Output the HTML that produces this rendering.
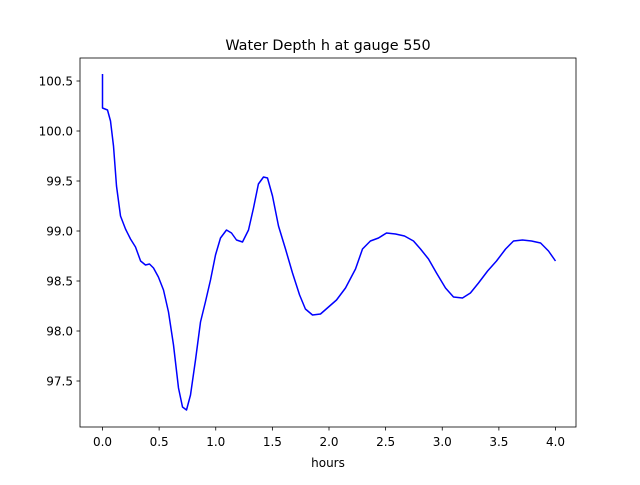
<!DOCTYPE html>
<html><head><meta charset="utf-8"><style>
body{margin:0;background:#fff;}
svg{font-family:"DejaVu Sans","Liberation Sans",sans-serif;}
</style></head><body>
<svg id="chart" width="640" height="480" viewBox="0 0 640 480">
<rect x="0" y="0" width="640" height="480" fill="#fff"/>
<text x="328" y="50" text-anchor="middle" font-size="14.4">Water Depth h at gauge 550</text>
<g id="xticks"></g>
<g id="yticks"></g>
<path id="line" fill="none" stroke="#0000ff" stroke-width="1.5" stroke-linejoin="round"/>
<rect x="80" y="58" width="496" height="369" fill="none" stroke="#000" stroke-width="0.8"/>
<text x="328" y="467" text-anchor="middle" font-size="12">hours</text>
</svg>
<script>
const times=[0,0,0.044,0.071,0.097,0.124,0.159,0.203,0.247,0.291,0.336,0.38,0.415,0.45,0.494,0.539,0.583,0.627,0.671,0.706,0.742,0.777,0.821,0.865,0.909,0.954,0.998,1.042,1.095,1.139,1.183,1.236,1.289,1.333,1.377,1.422,1.457,1.501,1.554,1.616,1.678,1.74,1.792,1.854,1.925,1.996,2.066,2.146,2.234,2.296,2.366,2.437,2.508,2.587,2.667,2.746,2.808,2.879,2.949,3.029,3.099,3.179,3.249,3.32,3.4,3.479,3.559,3.629,3.709,3.788,3.868,3.938,4.0];
const depths=[100.57,100.23,100.21,100.10,99.85,99.45,99.15,99.02,98.92,98.84,98.70,98.66,98.67,98.63,98.54,98.41,98.19,97.86,97.43,97.24,97.21,97.36,97.71,98.09,98.29,98.51,98.76,98.93,99.01,98.98,98.91,98.89,99.01,99.23,99.47,99.54,99.53,99.35,99.05,98.82,98.58,98.36,98.22,98.16,98.17,98.24,98.31,98.43,98.62,98.82,98.90,98.93,98.98,98.97,98.95,98.90,98.82,98.72,98.58,98.43,98.34,98.33,98.38,98.48,98.60,98.70,98.82,98.90,98.91,98.90,98.88,98.80,98.70];
const xTickVals=[0,0.5,1,1.5,2,2.5,3,3.5,4];
const xTickLabels=["0.0","0.5","1.0","1.5","2.0","2.5","3.0","3.5","4.0"];
const yTickVals=[97.5,98,98.5,99,99.5,100,100.5];
const yTickLabels=["97.5","98.0","98.5","99.0","99.5","100.0","100.5"];
const xs=t=>102.5+t*113.25;
const ys=v=>381-(v-97.5)*100;
const NS="http://www.w3.org/2000/svg";
const xg=document.getElementById('xticks'),yg=document.getElementById('yticks');
xTickVals.forEach((v,i)=>{
  const l=document.createElementNS(NS,'line');
  l.setAttribute('x1',xs(v));l.setAttribute('x2',xs(v));l.setAttribute('y1',427);l.setAttribute('y2',430.5);
  l.setAttribute('stroke','#000');l.setAttribute('stroke-width','0.8');
  
  
  xg.appendChild(l);
  const t=document.createElementNS(NS,'text');
  t.setAttribute('x',xs(v));t.setAttribute('y',446);t.setAttribute('text-anchor','middle');t.setAttribute('font-size','12');
  t.textContent=xTickLabels[i];
  
  
  xg.appendChild(t);
});
yTickVals.forEach((v,i)=>{
  const l=document.createElementNS(NS,'line');
  l.setAttribute('x1',76.5);l.setAttribute('x2',80);l.setAttribute('y1',ys(v));l.setAttribute('y2',ys(v));
  l.setAttribute('stroke','#000');l.setAttribute('stroke-width','0.8');
  
  
  yg.appendChild(l);
  const t=document.createElementNS(NS,'text');
  t.setAttribute('x',73);t.setAttribute('y',ys(v)+4.5);t.setAttribute('text-anchor','end');t.setAttribute('font-size','12');
  t.textContent=yTickLabels[i];
  
  
  yg.appendChild(t);
});
let d='';
times.forEach((t,i)=>{d+=(i?'L':'M')+xs(t).toFixed(1)+','+ys(depths[i]).toFixed(1);});
document.getElementById('line').setAttribute('d',d);
</script>
</body></html>
